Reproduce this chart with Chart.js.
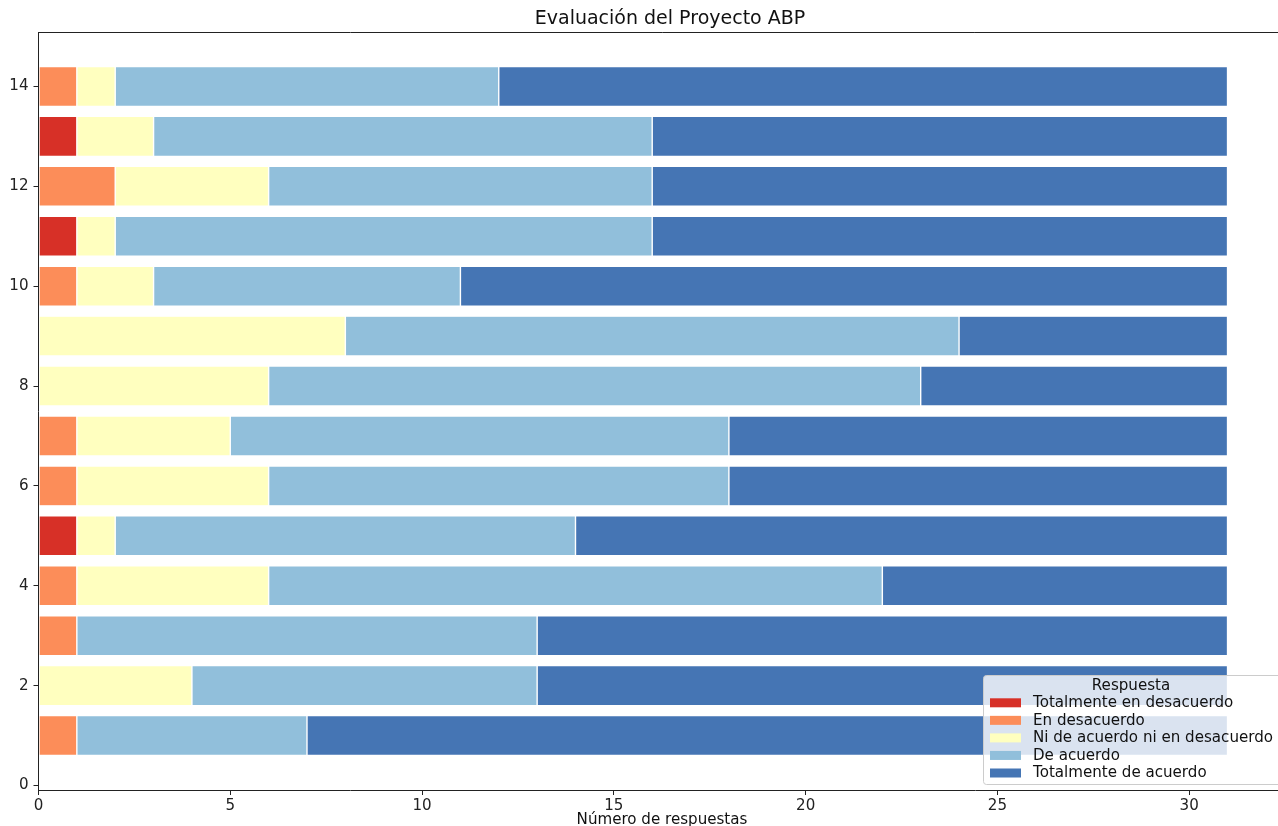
<!DOCTYPE html>
<html>
<head>
<meta charset="utf-8">
<script src="https://cdn.jsdelivr.net/npm/chart.js@4.4.1/dist/chart.umd.min.js"></script>
<style>
  html, body { margin: 0; padding: 0; overflow: hidden; background: #fff; }
  #wrap { width: 1290px; height: 845px; }
</style>
</head>
<body>
<div id="wrap"><canvas id="c" width="1290" height="845"></canvas></div>
<script>
// Question numbers (one horizontal bar each)
const preguntas = [1, 2, 3, 4, 5, 6, 7, 8, 9, 10, 11, 12, 13, 14];

// Number of answers per response level, question 1 .. 14
const totalmenteEnDesacuerdo = [0, 0, 0, 0, 1, 0, 0, 0, 0, 0, 1, 0, 1, 0];
const enDesacuerdo           = [1, 0, 1, 1, 0, 1, 1, 0, 0, 1, 0, 2, 0, 1];
const niAcuerdoNiDesacuerdo  = [0, 4, 0, 5, 1, 5, 4, 6, 8, 2, 1, 4, 2, 1];
const deAcuerdo              = [6, 9, 12, 16, 12, 12, 13, 17, 16, 8, 14, 10, 13, 10];
const totalmenteDeAcuerdo    = [24, 18, 18, 9, 17, 13, 13, 8, 7, 20, 15, 15, 15, 19];

const etiquetas = [
  'Totalmente en desacuerdo',
  'En desacuerdo',
  'Ni de acuerdo ni en desacuerdo',
  'De acuerdo',
  'Totalmente de acuerdo'
];
const colores = ['#d73027', '#fc8d59', '#ffffbf', '#91bfdb', '#4575b4'];

const xTicks = [0, 5, 10, 15, 20, 25, 30];
const yTicks = [0, 2, 4, 6, 8, 10, 12, 14];

const series = [totalmenteEnDesacuerdo, enDesacuerdo, niAcuerdoNiDesacuerdo, deAcuerdo, totalmenteDeAcuerdo];

const FONT = '"DejaVu Sans", sans-serif';
const PLOT_BOTTOM = 790;
const CANVAS_H = 845;

const datasets = series.map((vals, i) => ({
  label: etiquetas[i],
  data: preguntas.map((q, j) => ({ x: vals[j], y: q })),
  backgroundColor: colores[i],
  borderColor: 'rgba(255,255,255,0.55)',
  borderWidth: 0.7,
  borderSkipped: false,
  barPercentage: 0.8,
  categoryPercentage: 1.0
}));

// Title, axis label, top/right frame lines and the legend box
const decoraciones = {
  id: 'decoraciones',
  afterDraw(chart) {
    const ctx = chart.ctx;
    const a = chart.chartArea;
    ctx.save();

    // frame on the top and right sides
    ctx.strokeStyle = '#222';
    ctx.lineWidth = 1;
    ctx.beginPath();
    ctx.moveTo(a.left, a.top + 0.5);
    ctx.lineTo(a.right, a.top + 0.5);
    ctx.moveTo(a.right - 0.5, a.top);
    ctx.lineTo(a.right - 0.5, a.bottom);
    ctx.stroke();

    // chart title
    ctx.fillStyle = '#111';
    ctx.font = '19px ' + FONT;
    ctx.textAlign = 'center';
    ctx.textBaseline = 'middle';
    ctx.fillText('Evaluación del Proyecto ABP', 670, 19);

    // x-axis label
    ctx.font = '15.1px ' + FONT;
    ctx.fillText('Número de respuestas', 662, 820);

    // legend
    const bx = 983, by = 675, bw = 300, bh = 109;
    ctx.fillStyle = 'rgba(255,255,255,0.8)';
    ctx.strokeStyle = '#cccccc';
    ctx.lineWidth = 1;
    ctx.beginPath();
    ctx.roundRect(bx + 0.5, by + 0.5, bw, bh, 3);
    ctx.fill();
    ctx.stroke();

    ctx.fillStyle = '#111';
    ctx.font = '15.1px ' + FONT;
    ctx.textAlign = 'center';
    ctx.fillText('Respuesta', 1131, 686);

    ctx.textAlign = 'left';
    chart.data.datasets.forEach((ds, i) => {
      const cy = 703.3 + i * 17.55;
      ctx.fillStyle = ds.backgroundColor;
      ctx.fillRect(990, cy - 5, 31, 9);
      ctx.fillStyle = '#111';
      ctx.fillText(ds.label, 1033, cy);
    });

    ctx.restore();
  }
};

new Chart(document.getElementById('c'), {
  type: 'bar',
  data: { datasets },
  plugins: [decoraciones],
  options: {
    responsive: false,
    animation: false,
    indexAxis: 'y',
    layout: { padding: { top: 32, right: 3, left: 0, bottom: 0 } },
    plugins: {
      legend: { display: false },
      title: { display: false },
      tooltip: { enabled: false }
    },
    scales: {
      x: {
        type: 'linear',
        stacked: true,
        min: 0,
        max: 32.55,
        offset: false,
        afterFit(s) { s.height = CANVAS_H - PLOT_BOTTOM; },
        afterBuildTicks(s) { s.ticks = xTicks.map(v => ({ value: v })); },
        grid: { offset: false, drawOnChartArea: false, drawTicks: true, tickLength: 5, color: '#222', tickWidth: 1 },
        border: { display: true, color: '#222', width: 1 },
        ticks: { color: '#222', font: { family: FONT, size: 15.1 }, padding: 2, maxRotation: 0 }
      },
      y: {
        type: 'linear',
        stacked: true,
        min: -0.09,
        max: 15.09,
        offset: false,
        afterFit(s) { s.width = 38.5; },
        afterBuildTicks(s) { s.ticks = yTicks.map(v => ({ value: v })); },
        grid: { offset: false, drawOnChartArea: false, drawTicks: true, tickLength: 5, color: '#222', tickWidth: 1 },
        border: { display: true, color: '#222', width: 1 },
        ticks: { color: '#222', font: { family: FONT, size: 15.1 }, padding: 5 }
      }
    }
  }
});
</script>
</body>
</html>
